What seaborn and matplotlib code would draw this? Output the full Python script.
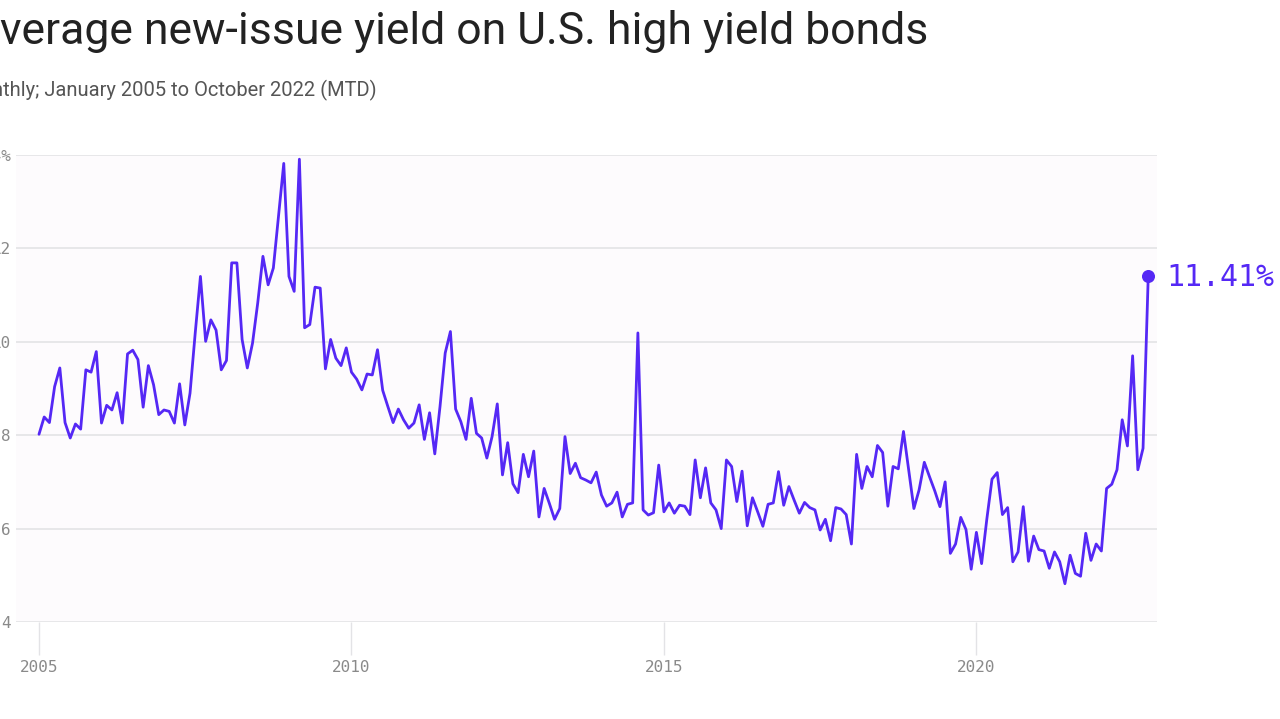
"""
Average new-issue yield on U.S. high yield bonds, monthly Jan 2005 - Oct 2022 (MTD).
Single line chart with the last value called out on the right.
"""

import matplotlib.pyplot as plt
import numpy as np
import pandas as pd
import seaborn as sns

LINE_COLOR = "#5528F5"
GRID_COLOR = "#e3e3e6"
TICK_COLOR = "#8a8a8a"

START_YEAR = 2005
YEAR_TICKS = [2005, 2010, 2015, 2020]
YIELD_TICKS = [4, 6, 8, 10, 12, 14]
YIELD_TICK_LABELS = ["4", "6", "8", "10", "12", "14%"]

# monthly average new-issue yield (%), one list per calendar year
yield_2005 = [8.02, 8.39, 8.27, 9.04, 9.44, 8.27, 7.94, 8.24, 8.13, 9.40, 9.35, 9.79]
yield_2006 = [8.26, 8.64, 8.54, 8.91, 8.26, 9.74, 9.82, 9.62, 8.60, 9.49, 9.08, 8.44]
yield_2007 = [8.54, 8.51, 8.26, 9.10, 8.22, 8.90, 10.19, 11.40, 10.01, 10.47, 10.25, 9.40]
yield_2008 = [9.60, 11.69, 11.69, 10.05, 9.44, 9.97, 10.83, 11.83, 11.22, 11.58, 12.70, 13.82]
yield_2009 = [11.40, 11.08, 13.91, 10.30, 10.37, 11.17, 11.15, 9.42, 10.05, 9.65, 9.49, 9.87]
yield_2010 = [9.35, 9.20, 8.97, 9.31, 9.29, 9.83, 8.96, 8.61, 8.27, 8.56, 8.33, 8.15]
yield_2011 = [8.26, 8.65, 7.91, 8.48, 7.60, 8.61, 9.76, 10.22, 8.56, 8.29, 7.91, 8.79]
yield_2012 = [8.04, 7.94, 7.51, 7.97, 8.67, 7.15, 7.84, 6.96, 6.77, 7.59, 7.11, 7.66]
yield_2013 = [6.25, 6.86, 6.54, 6.20, 6.43, 7.97, 7.18, 7.40, 7.09, 7.04, 6.98, 7.21]
yield_2014 = [6.72, 6.48, 6.55, 6.78, 6.25, 6.52, 6.55, 10.19, 6.40, 6.29, 6.34, 7.36]
yield_2015 = [6.36, 6.55, 6.33, 6.50, 6.48, 6.30, 7.47, 6.66, 7.30, 6.55, 6.40, 6.00]
yield_2016 = [7.47, 7.33, 6.58, 7.23, 6.06, 6.66, 6.36, 6.05, 6.52, 6.55, 7.22, 6.50]
yield_2017 = [6.90, 6.61, 6.33, 6.56, 6.45, 6.40, 5.97, 6.20, 5.74, 6.45, 6.42, 6.30]
yield_2018 = [5.67, 7.59, 6.86, 7.33, 7.11, 7.78, 7.63, 6.48, 7.33, 7.28, 8.08, 7.26]
yield_2019 = [6.43, 6.83, 7.42, 7.11, 6.81, 6.47, 7.00, 5.47, 5.67, 6.24, 5.98, 5.13]
yield_2020 = [5.92, 5.25, 6.20, 7.06, 7.20, 6.30, 6.45, 5.29, 5.50, 6.47, 5.30, 5.84]
yield_2021 = [5.55, 5.52, 5.15, 5.50, 5.29, 4.82, 5.43, 5.04, 4.98, 5.90, 5.32, 5.67]
yield_2022 = [5.52, 6.86, 6.95, 7.26, 8.33, 7.77, 9.70, 7.26, 7.72, 11.41]


def main():
    yields = (
        yield_2005 + yield_2006 + yield_2007 + yield_2008 + yield_2009 + yield_2010
        + yield_2011 + yield_2012 + yield_2013 + yield_2014 + yield_2015 + yield_2016
        + yield_2017 + yield_2018 + yield_2019 + yield_2020 + yield_2021 + yield_2022
    )
    dates = pd.date_range("2005-01-01", periods=len(yields), freq="MS")
    df = pd.DataFrame({
        "year": dates.year + (dates.month - 1) / 12,
        "yield": yields,
    })

    sns.set_theme(style="white")
    plt.rcParams["font.family"] = ["Roboto", "DejaVu Sans"]

    fig = plt.figure(figsize=(12.8, 7.19), dpi=100, facecolor="white")
    ax = fig.add_axes([16 / 1280, 1 - 622 / 719, 1141 / 1280, 467 / 719])
    ax.set_facecolor("#fdfbfd")

    sns.lineplot(data=df, x="year", y="yield", color=LINE_COLOR, linewidth=2.0, ax=ax)

    # ---------------- last value callout ----------------
    last = df.iloc[-1]
    ax.scatter([last["year"]], [last["yield"]], s=70, color=LINE_COLOR, zorder=5, clip_on=False)
    ax.annotate(
        f"{last['yield']:.2f}%", (last["year"], last["yield"]),
        xytext=(13, -1), textcoords="offset points", va="center", ha="left",
        color=LINE_COLOR, fontsize=21.5, family="DejaVu Sans Mono", annotation_clip=False,
    )

    # ---------------- axes styling ----------------
    ax.set_xlim(2004.632, 2022.89)
    ax.set_ylim(4, 14)
    ax.set_xticks(YEAR_TICKS)
    ax.set_xticklabels([str(y) for y in YEAR_TICKS])
    ax.set_yticks(YIELD_TICKS)
    ax.set_yticklabels(YIELD_TICK_LABELS)
    ax.set_xlabel("")
    ax.set_ylabel("")
    for spine in ax.spines.values():
        spine.set_visible(False)
    ax.yaxis.grid(True, color=GRID_COLOR, linewidth=1.2)
    ax.xaxis.grid(False)
    ax.set_axisbelow(True)

    ax.tick_params(axis="x", length=24, width=1, color=GRID_COLOR, pad=3,
                   labelsize=11.5, labelcolor=TICK_COLOR, direction="out", bottom=True)
    ax.tick_params(axis="y", length=0, pad=4, labelsize=11.5, labelcolor=TICK_COLOR)
    for label in ax.get_xticklabels() + ax.get_yticklabels():
        label.set_family("DejaVu Sans Mono")

    # ---------------- titles (cropped on the left like the source) ----------------
    fig.text(928 / 1280, 1 - 44 / 719, "Average new-issue yield on U.S. high yield bonds",
             ha="right", va="baseline", fontsize=32, color="#222222")
    fig.text(377 / 1280, 1 - 96 / 719, "Monthly; January 2005 to October 2022 (MTD)",
             ha="right", va="baseline", fontsize=14.5, color="#555555")

    fig.savefig("out.png", dpi=100, facecolor="white")
    plt.close(fig)


if __name__ == "__main__":
    main()
